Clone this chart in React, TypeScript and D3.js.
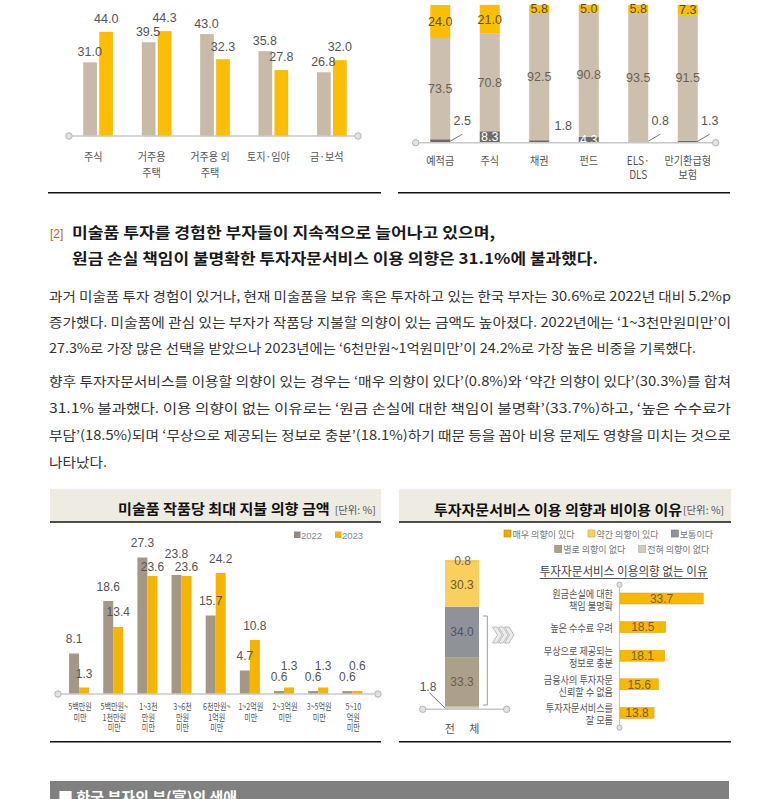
import React from "react";
import * as d3 from "d3";

// ---------------- DATA ----------------
const assetCats = ["주식", "거주용\n주택", "거주용 외\n주택", "토지·임야", "금·보석"];
const asset2022 = [31.0, 39.5, 43.0, 35.8, 26.8];
const asset2023 = [44.0, 44.3, 32.3, 27.8, 32.0];

const finCats = ["예적금", "주식", "채권", "펀드", "ELS·\nDLS", "만기환급형\n보험"];
const finTop = [24.0, 21.0, 5.8, 5.0, 5.8, 7.3];
const finMid = [73.5, 70.8, 92.5, 90.8, 93.5, 91.5];
const finBot = [2.5, 8.3, 1.8, 4.3, 0.8, 1.3];

const artCats = [
  "5백만원\n미만",
  "5백만원~\n1천만원\n미만",
  "1~3천\n만원\n미만",
  "3~6천\n만원\n미만",
  "6천만원~\n1억원\n미만",
  "1~2억원\n미만",
  "2~3억원\n미만",
  "3~5억원\n미만",
  "5~10\n억원\n미만",
];
const art2022 = [8.1, 18.6, 27.3, 23.8, 15.7, 4.7, 0.6, 0.6, 0.6];
const art2023 = [1.3, 13.4, 23.6, 23.6, 24.2, 10.8, 1.3, 1.3, 0.6];
const artYears = ["2022", "2023"];

const intentCats = ["매우 의향이 있다", "약간 의향이 있다", "보통이다", "별로 의향이 없다", "전혀 의향이 없다"];
const intentValues = [0.8, 30.3, 34.0, 33.3, 1.8];

const reasonCats = [
  "원금손실에 대한\n책임 불명확",
  "높은 수수료 우려",
  "무상으로 제공되는\n정보로 충분",
  "금융사의 투자자문\n신뢰할 수 없음",
  "투자자문서비스를\n잘 모름",
];
const reasonValues = [33.7, 18.5, 18.1, 15.6, 13.8];

const headNum = "[2]";
const headLines = [
  "미술품 투자를 경험한 부자들이 지속적으로 늘어나고 있으며,",
  "원금 손실 책임이 불명확한 투자자문서비스 이용 의향은 31.1%에 불과했다.",
];
const para1 = [
  "과거 미술품 투자 경험이 있거나, 현재 미술품을 보유 혹은 투자하고 있는 한국 부자는 30.6%로 2022년 대비 5.2%p",
  "증가했다. 미술품에 관심 있는 부자가 작품당 지불할 의향이 있는 금액도 높아졌다. 2022년에는 ‘1~3천만원미만’이",
  "27.3%로 가장 많은 선택을 받았으나 2023년에는 ‘6천만원~1억원미만’이 24.2%로 가장 높은 비중을 기록했다.",
];
const para2 = [
  "향후 투자자문서비스를 이용할 의향이 있는 경우는 ‘매우 의향이 있다’(0.8%)와 ‘약간 의향이 있다’(30.3%)를 합쳐",
  "31.1% 불과했다. 이용 의향이 없는 이유로는 ‘원금 손실에 대한 책임이 불명확’(33.7%)하고, ‘높은 수수료가",
  "부담’(18.5%)되며 ‘무상으로 제공되는 정보로 충분’(18.1%)하기 때문 등을 꼽아 비용 문제도 영향을 미치는 것으로",
  "나타났다.",
];
const titleC = "미술품 작품당 최대 지불 의향 금액";
const titleD = "투자자문서비스 이용 의향과 비이용 이유";
const unitText = "[단위: %]";
const subTitleD = "투자자문서비스 이용의향 없는 이유";
const totalLabel = "전 체";
const footerTitle = "■ 한국 부자의 부(富)의 생애";

// ---------------- STYLE ----------------
const KR = "'Noto Sans CJK KR', 'Noto Sans', sans-serif";
const NUM = "'Liberation Sans', Arial, sans-serif";
const LBL = "#555";
// label gap (px above bar top) for chart C value labels, to keep them apart as in the reference
const gapC2022 = [10.5, 10.5, 10.5, 17.5, 10.5, 10.5, 10.5, 10.5, 10.5];
const gapC2023 = [10, 11, 5.5, 5.5, 10.5, 10.5, 18, 18, 21.5];

function Multi({ x, y, text, lh, sx = 1, size, fill = LBL, anchor = "middle", family = KR, weight = 400 }: any) {
  const lines = String(text).split("\n");
  return (
    <g transform={`translate(${x},${y}) scale(${sx},1)`}>
      {lines.map((l: string, i: number) => (
        <text key={i} x={0} y={i * lh} textAnchor={anchor} fontSize={size} fill={fill} fontFamily={family} fontWeight={weight}>
          {l}
        </text>
      ))}
    </g>
  );
}

function AxisDots({ x1, x2, y }: any) {
  return (
    <g>
      <line x1={x1} x2={x2} y1={y} y2={y} stroke="#c8c8c8" strokeWidth={1.5} />
      <circle cx={x1} cy={y} r={3.2} fill="#e2e2e2" stroke="#b5b5b5" />
      <circle cx={x2} cy={y} r={3.2} fill="#e2e2e2" stroke="#b5b5b5" />
    </g>
  );
}

export default function App() {
  // ---- Chart A ----
  const xA = d3.scaleBand<number>().domain(d3.range(assetCats.length)).range([69, 361]);
  const yA = d3.scaleLinear().domain([0, 57.6]).range([136, 0]);
  const cA = (i: number) => (xA(i) as number) + xA.bandwidth() / 2;

  // ---- Chart B ----
  const xB = d3.scaleBand<number>().domain(d3.range(finCats.length)).range([415.5, 712.5]);
  const yB = d3.scaleLinear().domain([0, 100]).range([142.7, 5]);
  const cB = (i: number) => (xB(i) as number) + xB.bandwidth() / 2;
  const bLeader = [true, false, false, false, true, true];

  // ---- Chart C ----
  const xC = d3.scaleBand<number>().domain(d3.range(artCats.length)).range([62, 369.4]);
  const yC = d3.scaleLinear().domain([0, 30]).range([694, 544]);
  const cC = (i: number) => (xC(i) as number) + xC.bandwidth() / 2;

  // ---- Chart D ----
  const yD = d3.scaleLinear().domain([0, 100]).range([709.3, 560.7]);
  const intentColors = ["#f2a900", "#f9cf5e", "#8f9299", "#ad a088".replace(" ", ""), "#d3ccbc"];
  const intentText = ["#666", "#6b5a2a", "#4f5566", "#6e5f48", "#666"];
  const stackOrder = d3.range(intentValues.length).reverse();
  let acc = 0;
  const segs = stackOrder.map((k) => {
    const s = { k, y0: acc, y1: acc + intentValues[k] };
    acc += intentValues[k];
    return s;
  });
  const xR = d3.scaleLinear().domain([0, 40]).range([620, 718.8]);
  const yR = d3.scaleBand<number>().domain(d3.range(reasonCats.length)).range([584.2, 727.2]);
  const cR = (i: number) => (yR(i) as number) + yR.bandwidth() / 2;

  const grayA = "#c9baa8";
  const yellowA = "#fbbe00";
  const grayC = "#a59786";
  const yellowC = "#f5b400";

  return (
    <svg width={782} height={799} style={{ position: "absolute", left: 0, top: 0, background: "#fff" }}>
      {/* ================= Chart A ================= */}
      <g>
        {assetCats.map((_, i) => {
          const c = cA(i);
          return (
            <g key={i}>
              <rect x={c - 14.5} y={yA(asset2022[i])} width={13} height={yA(0) - yA(asset2022[i])} fill={grayA} stroke="#b9aa98" strokeWidth={0.5} />
              <rect x={c + 1.5} y={yA(asset2023[i])} width={13} height={yA(0) - yA(asset2023[i])} fill={yellowA} stroke="#e8ad00" strokeWidth={0.5} />
              <text x={c - 8.5} y={yA(asset2022[i]) - 6.5} textAnchor="middle" fontSize={12.5} fill={LBL} fontFamily={NUM}>
                {asset2022[i].toFixed(1)}
              </text>
              <text x={c + 8} y={yA(asset2023[i]) - 9} textAnchor="middle" fontSize={12.5} fill={LBL} fontFamily={NUM}>
                {asset2023[i].toFixed(1)}
              </text>
              <Multi x={c - 5} y={161} text={assetCats[i]} lh={16} sx={0.88} size={11.5} />
            </g>
          );
        })}
        <AxisDots x1={69} x2={358} y={136} />
        <line x1={48} x2={381} y1={192.7} y2={192.7} stroke="#111" strokeWidth={1.5} />
      </g>

      {/* ================= Chart B ================= */}
      <g>
        {finCats.map((_, i) => {
          const c = cB(i);
          const b1 = finBot[i], m1 = b1 + finMid[i], t1 = m1 + finTop[i];
          const right = c + 10;
          return (
            <g key={i}>
              <rect x={c - 10} y={yB(b1)} width={20} height={yB(0) - yB(b1)} fill="#6e6b66" />
              <rect x={c - 10} y={yB(m1)} width={20} height={yB(b1) - yB(m1)} fill="#cdbfae" />
              <rect x={c - 10} y={yB(t1)} width={20} height={yB(m1) - yB(t1)} fill={yellowA} />
              <text x={c} y={(yB(m1) + yB(t1)) / 2 + 4.5} textAnchor="middle" fontSize={12.5} fill="#5a4a2c" fontFamily={NUM}>
                {finTop[i].toFixed(1)}
              </text>
              <text x={c} y={(yB(b1) + yB(m1)) / 2 + 4.5} textAnchor="middle" fontSize={12.5} fill="#6a5f55" fontFamily={NUM}>
                {finMid[i].toFixed(1)}
              </text>
              {finBot[i] >= 4 ? (
                <text x={c} y={(yB(0) + yB(b1)) / 2 + 4.5} textAnchor="middle" fontSize={12.5} fill="#fff" fontFamily={NUM}>
                  {finBot[i].toFixed(1)}
                </text>
              ) : bLeader[i] ? (
                <g>
                  <line x1={right} y1={yB(0) - 1.5} x2={right + 12} y2={yB(0) - 8.5} stroke="#777" strokeWidth={1} />
                  <text x={right + 12} y={yB(0) - 18} textAnchor="middle" fontSize={12.5} fill={LBL} fontFamily={NUM}>
                    {finBot[i].toFixed(1)}
                  </text>
                </g>
              ) : (
                <text x={right + 14} y={yB(0) - 13} textAnchor="middle" fontSize={12.5} fill={LBL} fontFamily={NUM}>
                  {finBot[i].toFixed(1)}
                </text>
              )}
              <Multi x={c} y={164.5} text={finCats[i]} lh={15} sx={0.88} size={11.5} />
            </g>
          );
        })}
        <AxisDots x1={415.7} x2={715.7} y={142.7} />
        <line x1={398} x2={730} y1={192.7} y2={192.7} stroke="#111" strokeWidth={1.5} />
      </g>

      {/* ================= Text block ================= */}
      <g>
        <text x={50} y={237.5} fontSize={12} fill="#c0652a" fontFamily={NUM}>
          {headNum}
        </text>
        {headLines.map((l, i) => (
          <text key={i} x={72} y={238 + i * 26} fontSize={15} fontWeight={700} fill="#1a1a1a" fontFamily={KR}
            textLength={i === 0 ? 423 : 526} lengthAdjust="spacingAndGlyphs">
            {l}
          </text>
        ))}
        {para1.map((l, i) => (
          <text key={i} x={49} y={300.5 + i * 26} fontSize={13} fill="#333" fontFamily={KR}
            textLength={i === 2 ? 647 : 682} lengthAdjust="spacingAndGlyphs">
            {l}
          </text>
        ))}
        {para2.map((l, i) => (
          <text key={i} x={49} y={385.5 + i * 27} fontSize={13} fill="#333" fontFamily={KR}
            textLength={i === 3 ? 58 : 682} lengthAdjust="spacingAndGlyphs">
            {l}
          </text>
        ))}
      </g>

      {/* ================= Chart C ================= */}
      <g>
        <rect x={50} y={489} width={331} height={32} fill="#edebe2" />
        <line x1={50} x2={381} y1={522} y2={522} stroke="#111" strokeWidth={1.5} />
        <text x={118} y={514} fontSize={14} fontWeight={700} fill="#111" fontFamily={KR} textLength={211.7} lengthAdjust="spacingAndGlyphs">
          {titleC}
        </text>
        <text x={334.7} y={513.5} fontSize={10} fill={LBL} fontFamily={KR} textLength={41} lengthAdjust="spacingAndGlyphs">
          {unitText}
        </text>
        {artYears.map((yr, k) => {
          const lx = k === 0 ? 294 : 335;
          return (
            <g key={yr}>
              <rect x={lx} y={531.5} width={6.5} height={6.5} fill={k === 0 ? "#928a82" : yellowC} />
              <text x={lx + 7} y={539} fontSize={9.5} fill="#888" fontFamily={NUM}>
                {yr}
              </text>
            </g>
          );
        })}
        {artCats.map((_, i) => {
          const c = cC(i);
          return (
            <g key={i}>
              <rect x={c - 10} y={yC(art2022[i])} width={10} height={yC(0) - yC(art2022[i])} fill={grayC} />
              <rect x={c} y={yC(art2023[i])} width={10} height={yC(0) - yC(art2023[i])} fill={yellowC} />
            </g>
          );
        })}
        {artCats.map((_, i) => {
          const c = cC(i);
          return (
            <g key={"l" + i}>
              <text x={c - 5} y={yC(art2022[i]) - gapC2022[i]} textAnchor="middle" fontSize={12} fill={LBL} fontFamily={NUM}>
                {art2022[i].toFixed(1)}
              </text>
              <text x={c + 5} y={yC(art2023[i]) - gapC2023[i]} textAnchor="middle" fontSize={12} fill={LBL} fontFamily={NUM}>
                {art2023[i].toFixed(1)}
              </text>
              <Multi x={c + 1} y={710} text={artCats[i]} lh={10.5} sx={0.75} size={9.5} />
            </g>
          );
        })}
        <AxisDots x1={58} x2={378} y={694} />
        <line x1={50} x2={381} y1={741.7} y2={741.7} stroke="#111" strokeWidth={1.5} />
      </g>

      {/* ================= Chart D ================= */}
      <g>
        <rect x={399} y={489} width={332} height={32} fill="#edebe2" />
        <line x1={399} x2={731} y1={522} y2={522} stroke="#111" strokeWidth={1.5} />
        <text x={434} y={514.5} fontSize={13.5} fontWeight={700} fill="#111" fontFamily={KR} textLength={248} lengthAdjust="spacingAndGlyphs">
          {titleD}
        </text>
        <text x={683} y={514} fontSize={10} fill={LBL} fontFamily={KR} textLength={41} lengthAdjust="spacingAndGlyphs">
          {unitText}
        </text>
        {intentCats.map((name, k) => {
          const pos = [
            [504, 530],
            [588, 530],
            [671.3, 530],
            [554.7, 545.5],
            [638.7, 545.5],
          ][k];
          return (
            <g key={name}>
              <rect x={pos[0]} y={pos[1]} width={7} height={7} fill={intentColors[k]} stroke={d3.color(intentColors[k])!.darker(0.6).formatHex()} strokeWidth={0.6} />
              <Multi x={pos[0] + 8.5} y={pos[1] + 7.5} text={name} lh={10} sx={0.95} size={9.5} fill="#777" anchor="start" />
            </g>
          );
        })}
        {segs.map((s) => (
          <rect key={s.k} x={445} y={yD(s.y1)} width={34} height={yD(s.y0) - yD(s.y1)} fill={intentColors[s.k]} />
        ))}
        {segs.map((s) => {
          const v = intentValues[s.k];
          if (v < 1.5) {
            return (
              <text key={"t" + s.k} x={462.5} y={yD(s.y1) + 4.5} textAnchor="middle" fontSize={12} fill="#666" fontFamily={NUM}>
                {v.toFixed(1)}
              </text>
            );
          }
          if (v < 3) {
            return (
              <g key={"t" + s.k}>
                <line x1={429.3} y1={692.7} x2={445} y2={708} stroke="#777" strokeWidth={1} />
                <text x={428} y={691} textAnchor="middle" fontSize={12} fill={LBL} fontFamily={NUM}>
                  {v.toFixed(1)}
                </text>
              </g>
            );
          }
          return (
            <text key={"t" + s.k} x={462} y={(yD(s.y0) + yD(s.y1)) / 2 + 4.5} textAnchor="middle" fontSize={12} fill={intentText[s.k]} fontFamily={NUM}>
              {v.toFixed(1)}
            </text>
          );
        })}
        <AxisDots x1={422.7} x2={506.7} y={709.3} />
        <text x={465} y={732.5} textAnchor="middle" fontSize={11} fill={LBL} fontFamily={KR} letterSpacing={6}>
          {totalLabel}
        </text>
        <path d="M483,616 H487.3 V705 H483" fill="none" stroke="#999" strokeWidth={1} />
        {[0, 6, 12].map((dx) => (
          <polygon
            key={dx}
            points={`${492.5 + dx},627 ${497 + dx},627 ${502 + dx},635 ${497 + dx},643 ${492.5 + dx},643 ${497.5 + dx},635`}
            fill="#ececec"
            stroke="#ababab"
            strokeWidth={0.8}
          />
        ))}
        <text x={539.7} y={575.5} fontSize={12.5} fill="#444" fontFamily={KR} textLength={168} lengthAdjust="spacingAndGlyphs">
          {subTitleD}
        </text>
        <line x1={539.7} x2={708} y1={578.5} y2={578.5} stroke="#555" strokeWidth={1} />
        <line x1={619.5} x2={619.5} y1={584.7} y2={727.7} stroke="#c8c8c8" strokeWidth={1.2} />
        <circle cx={619.5} cy={584.7} r={2.6} fill="#e2e2e2" stroke="#b5b5b5" />
        <circle cx={619.5} cy={727.7} r={2.6} fill="#e2e2e2" stroke="#b5b5b5" />
        {reasonCats.map((name, i) => {
          const c = cR(i);
          const two = name.includes("\n");
          return (
            <g key={name}>
              <rect x={xR(0)} y={c - 5.5} width={xR(reasonValues[i]) - xR(0)} height={11} fill="#f7b900" stroke="#d9a300" strokeWidth={0.5} />
              <text x={(xR(0) + xR(reasonValues[i])) / 2} y={c + 4.3} textAnchor="middle" fontSize={12} fill="#7a5c14" fontFamily={NUM}>
                {reasonValues[i].toFixed(1)}
              </text>
              <Multi x={613} y={two ? c - 0.5 : c + 4.5} text={name} lh={12} sx={0.87} size={10.5} anchor="end" />
            </g>
          );
        })}
        <line x1={399} x2={731} y1={741.7} y2={741.7} stroke="#111" strokeWidth={1.5} />
      </g>

      {/* ================= Footer band ================= */}
      <rect x={50} y={781} width={679} height={30} fill="#808080" />
      <text x={58} y={803} fontSize={15} fontWeight={700} fill="#fff" fontFamily={KR}>
        {footerTitle}
      </text>
    </svg>
  );
}
